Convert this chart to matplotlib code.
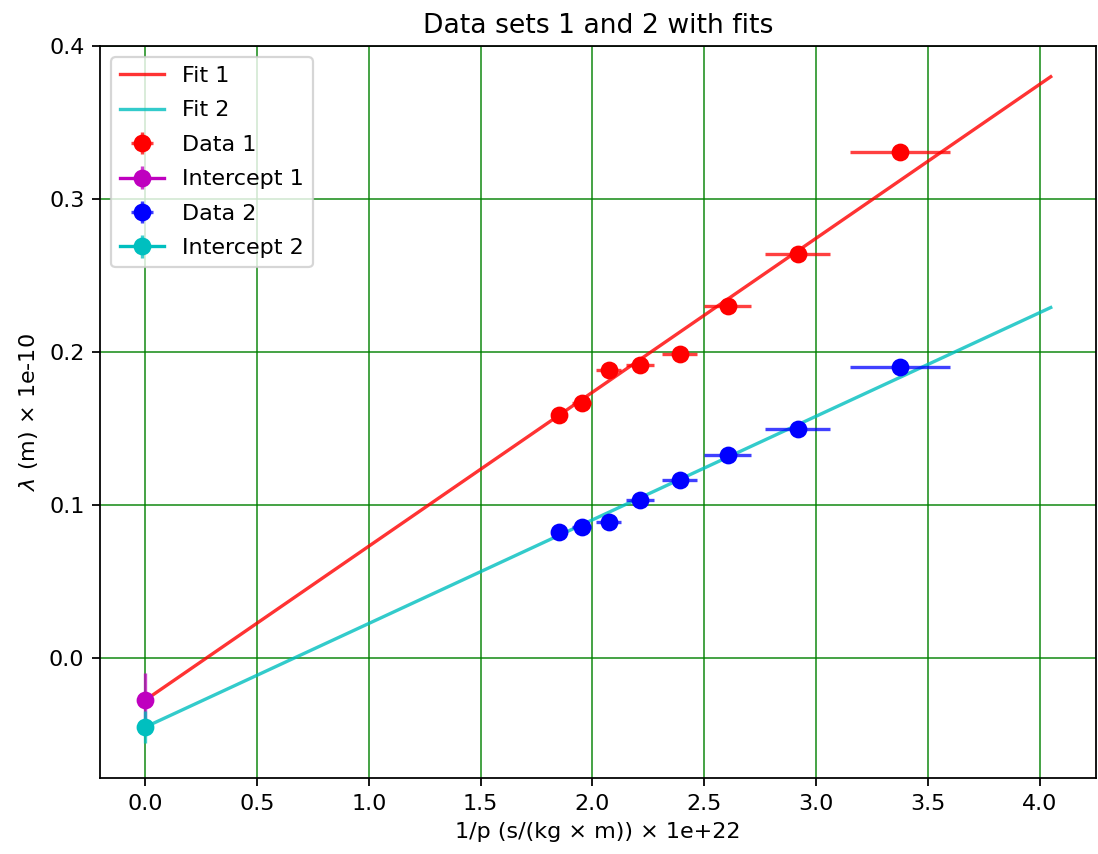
import numpy as np
import matplotlib
matplotlib.use("Agg")
import matplotlib.pyplot as plt

# 1/p values (x 1e22) and wavelengths (x 1e-10 m)
inv_p = [1.85, 1.952, 2.072, 2.214, 2.391, 2.606, 2.919, 3.376]
inv_p_err = [0.035, 0.042, 0.055, 0.062, 0.078, 0.105, 0.145, 0.222]
lam1 = [0.1588, 0.1667, 0.1880, 0.1915, 0.1987, 0.2300, 0.2640, 0.3310]
lam2 = [0.0824, 0.0856, 0.0889, 0.1033, 0.1163, 0.1327, 0.1500, 0.1900]
lam_err = [0.001] * 8

# fit results
slope1, icpt1, icpt1_err = 0.1006, -0.0275, 0.018
slope2, icpt2, icpt2_err = 0.0677, -0.0451, 0.0105
fit_x = np.array([0.0, 4.05])

DPI = 160
fig = plt.figure(figsize=(1098 / DPI, 854 / DPI), dpi=DPI)
ax = fig.add_axes([100 / 1098, 76 / 854, 996 / 1098, 732 / 854])

ax.plot(fit_x, slope1 * fit_x + icpt1, "r-", alpha=0.8, label="Fit 1")
ax.plot(fit_x, slope2 * fit_x + icpt2, "c-", alpha=0.8, label="Fit 2")
ax.errorbar(inv_p, lam1, xerr=inv_p_err, yerr=lam_err, fmt="o", color="r",
            ecolor=(1, 0, 0, 0.75), markersize=7, label="Data 1")
ax.errorbar([0], [icpt1], yerr=[icpt1_err], fmt="o-", color="m",
            ecolor=(0.75, 0, 0.75, 0.75), markersize=7, label="Intercept 1")
ax.errorbar(inv_p, lam2, xerr=inv_p_err, yerr=lam_err, fmt="o", color="b",
            ecolor=(0, 0, 1, 0.75), markersize=7, label="Data 2")
ax.errorbar([0], [icpt2], yerr=[icpt2_err], fmt="o-", color="c",
            ecolor=(0, 0.75, 0.75, 0.75), markersize=7, label="Intercept 2")

ax.set_xlim(-0.2025, 4.2525)
ax.set_ylim(-0.0784, 0.4)
ax.set_yticks([0.0, 0.1, 0.2, 0.3, 0.4])
ax.grid(True, color="g", alpha=0.8)
ax.set_axisbelow(True)

ax.set_title("Data sets 1 and 2 with fits")
ax.set_xlabel("1/p (s/(kg × m)) × 1e+22")
ax.set_ylabel(r"$\lambda$ (m) × 1e-10")
ax.legend(loc="upper left", labelspacing=0.65)

fig.savefig("out.png", dpi=DPI)
